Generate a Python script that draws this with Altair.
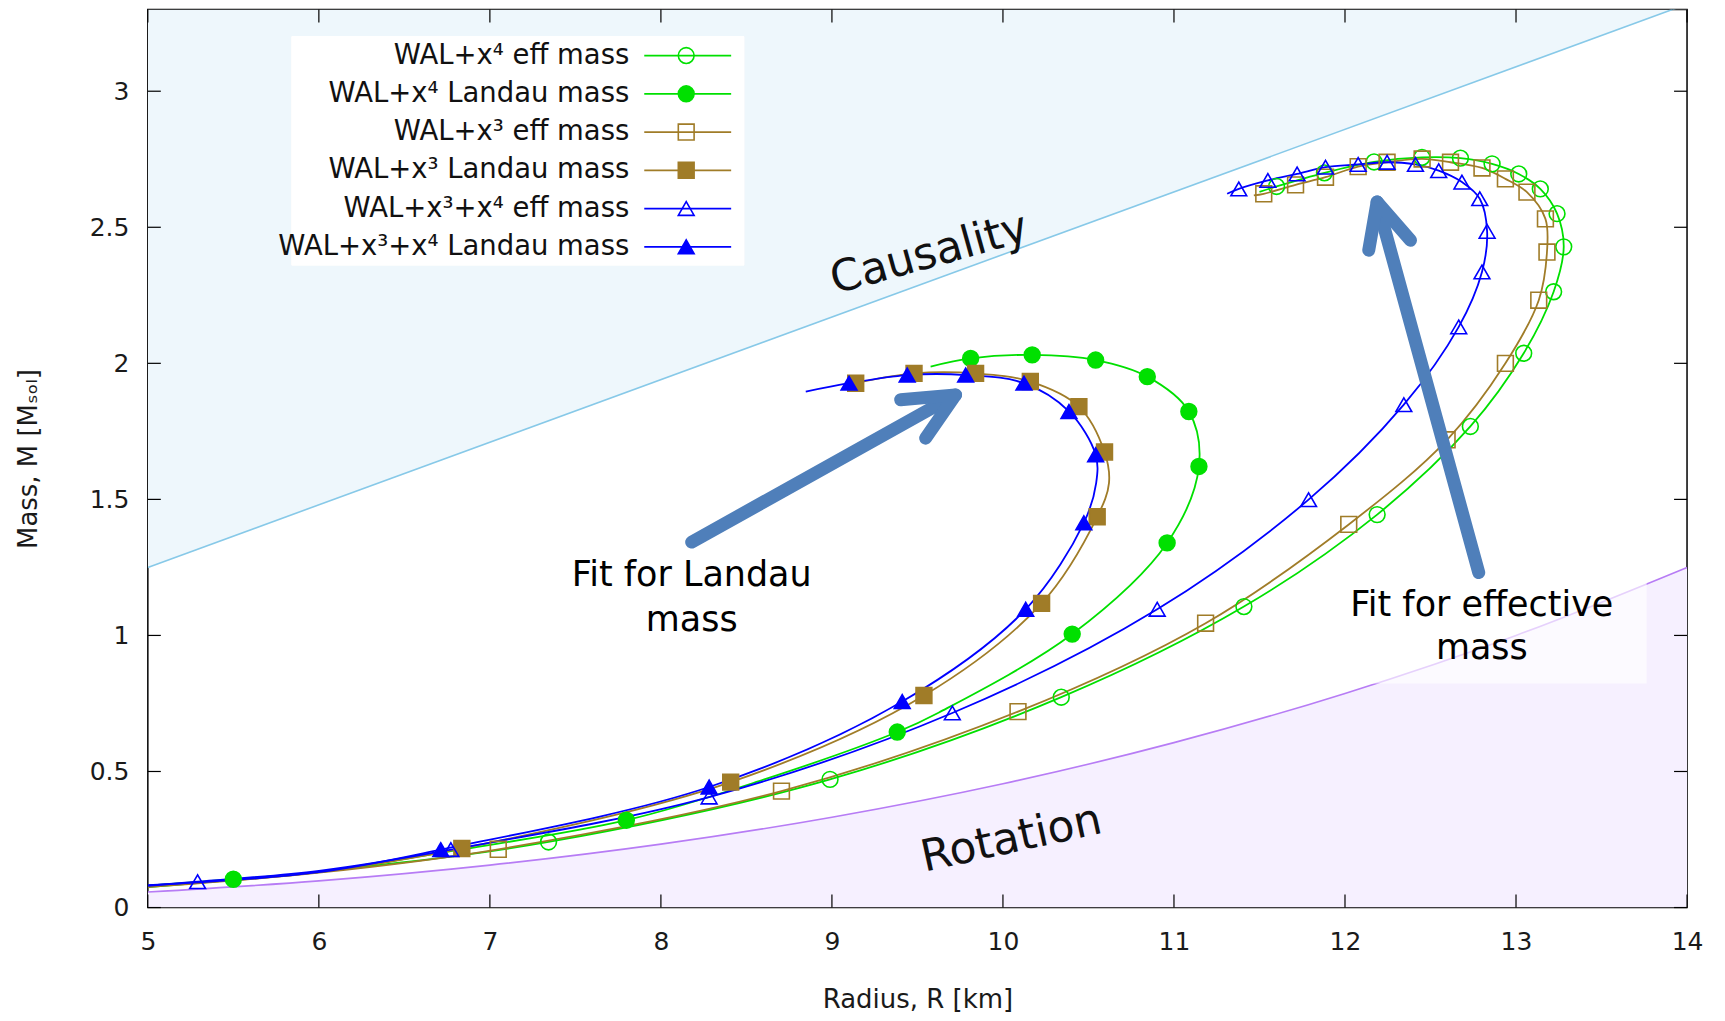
import altair as alt
import pandas as pd

W, H = 1541, 899
FONT = "DejaVu Sans"

SERIES = ["WAL+x⁴ eff mass", "WAL+x⁴ Landau mass", "WAL+x³ eff mass",
          "WAL+x³ Landau mass", "WAL+x³+x⁴ eff mass", "WAL+x³+x⁴ Landau mass"]
COLORS = ["#00e000", "#00e000", "#a07c28", "#a07c28", "#0000ff", "#0000ff"]
FILLS = ["transparent", "#00e000", "transparent", "#a07c28", "transparent", "#0000ff"]
SHAPES = ["circle", "circle", "square", "square", "triangle-up", "triangle-up"]

# ---- curves (R [km], M [Msol]) ordered along the sequence ----
X4_EFF_R = [5.0, 6.2, 7.343, 8.989, 10.341, 11.409, 12.188, 12.733, 13.045, 13.22, 13.279,
            13.24, 13.142, 13.016, 12.86, 12.675, 12.45, 12.17, 11.88, 11.6, 11.5]
X4_EFF_M = [0.075, 0.145, 0.241, 0.471, 0.773, 1.106, 1.444, 1.768, 2.037, 2.263, 2.428,
            2.55, 2.641, 2.696, 2.733, 2.754, 2.757, 2.74, 2.70, 2.65, 2.63]
X4_EFF_MK_R = [7.343, 8.989, 10.341, 11.409, 12.188, 12.733, 13.045, 13.22, 13.279,
               13.24, 13.142, 13.016, 12.86, 12.675, 12.45, 12.17, 11.88, 11.6]
X4_EFF_MK_M = [0.241, 0.471, 0.773, 1.106, 1.444, 1.768, 2.037, 2.263, 2.428,
               2.55, 2.641, 2.696, 2.733, 2.754, 2.757, 2.74, 2.70, 2.65]

X4_LAN_R = [5.0, 5.5, 6.0, 6.7, 7.798, 8.6, 9.382, 9.626, 10.405, 10.96, 11.146, 11.087,
            10.844, 10.542, 10.171, 9.811, 9.577]
X4_LAN_M = [0.08, 0.104, 0.13, 0.2, 0.321, 0.47, 0.645, 0.717, 1.005, 1.34, 1.621, 1.823,
            1.951, 2.012, 2.031, 2.018, 1.988]
X4_LAN_MK_R = [5.5, 7.798, 9.382, 10.405, 10.96, 11.146, 11.087, 10.844, 10.542, 10.171, 9.811]
X4_LAN_MK_M = [0.104, 0.321, 0.645, 1.005, 1.34, 1.621, 1.823, 1.951, 2.012, 2.031, 2.018]

X3_EFF_R = [5.0, 6.0, 7.049, 8.705, 10.088, 11.185, 12.022, 12.597, 12.938, 13.133, 13.181,
            13.172, 13.064, 12.938, 12.801, 12.617, 12.451, 12.246, 12.077, 11.886, 11.711,
            11.525, 11.467]
X3_EFF_M = [0.075, 0.128, 0.214, 0.428, 0.72, 1.045, 1.408, 1.719, 2.0, 2.232, 2.409,
            2.531, 2.629, 2.678, 2.718, 2.739, 2.751, 2.739, 2.723, 2.684, 2.656,
            2.623, 2.617]
X3_EFF_MK_R = [7.049, 8.705, 10.088, 11.185, 12.022, 12.597, 12.938, 13.133, 13.181,
               13.172, 13.064, 12.938, 12.801, 12.617, 12.451, 12.246, 12.077, 11.886,
               11.711, 11.525]
X3_EFF_MK_M = [0.214, 0.428, 0.72, 1.045, 1.408, 1.719, 2.0, 2.232, 2.409,
               2.531, 2.629, 2.678, 2.718, 2.739, 2.751, 2.739, 2.723, 2.684,
               2.656, 2.623]

X3_LAN_R = [5.0, 6.0, 6.836, 8.408, 9.538, 10.226, 10.551, 10.62, 10.594, 10.444, 10.16,
            9.84, 9.48, 9.139]
X3_LAN_M = [0.08, 0.13, 0.217, 0.461, 0.779, 1.118, 1.436, 1.56, 1.674, 1.841, 1.933,
            1.963, 1.963, 1.927]
X3_LAN_MK_R = [6.836, 8.408, 9.538, 10.226, 10.551, 10.594, 10.444, 10.16, 9.84, 9.48, 9.139]
X3_LAN_MK_M = [0.217, 0.461, 0.779, 1.118, 1.436, 1.674, 1.841, 1.933, 1.963, 1.963, 1.927]

X34_EFF_R = [5.0, 5.291, 6.0, 6.772, 8.282, 9.704, 10.902, 11.787, 12.344, 12.665, 12.801,
             12.831, 12.788, 12.684, 12.548, 12.412, 12.246, 12.077, 11.886, 11.72, 11.549,
             11.379, 11.311]
X34_EFF_M = [0.08, 0.095, 0.135, 0.213, 0.406, 0.715, 1.096, 1.499, 1.848, 2.134, 2.336,
             2.485, 2.605, 2.666, 2.708, 2.731, 2.739, 2.731, 2.721, 2.696, 2.672,
             2.641, 2.623]
X34_EFF_MK_R = [5.291, 6.772, 8.282, 9.704, 10.902, 11.787, 12.344, 12.665, 12.801,
                12.831, 12.788, 12.684, 12.548, 12.412, 12.246, 12.077, 11.886, 11.72,
                11.549, 11.379]
X34_EFF_MK_M = [0.095, 0.213, 0.406, 0.715, 1.096, 1.499, 1.848, 2.134, 2.336,
                2.485, 2.605, 2.666, 2.708, 2.731, 2.739, 2.731, 2.721, 2.696,
                2.672, 2.641]

X34_LAN_R = [5.0, 6.0, 6.713, 8.282, 9.411, 10.133, 10.473, 10.545, 10.542, 10.386, 10.123,
             9.782, 9.44, 9.10, 8.847]
X34_LAN_M = [0.082, 0.13, 0.213, 0.443, 0.757, 1.096, 1.414, 1.56, 1.664, 1.823, 1.927,
             1.957, 1.957, 1.927, 1.896]
X34_LAN_MK_R = [6.713, 8.282, 9.411, 10.133, 10.473, 10.542, 10.386, 10.123, 9.782, 9.44, 9.10]
X34_LAN_MK_M = [0.213, 0.443, 0.757, 1.096, 1.414, 1.664, 1.823, 1.927, 1.957, 1.957, 1.927]

# ---- limits ----
CAUS_R = [5.0, 14.0]
CAUS_M = [1.25, 3.32]
M_TOP = 3.3
ROT_R = [5, 6, 7, 8, 9, 10, 11, 12, 13, 14]
ROT_M = [0.057, 0.098, 0.156, 0.233, 0.332, 0.455, 0.606, 0.787, 1.0, 1.25]

XTICKS = [5, 6, 7, 8, 9, 10, 11, 12, 13, 14]
YTICKS = [0, 0.5, 1, 1.5, 2, 2.5, 3]

# ---- annotations ----
ARROW_SEG = ["a1", "a1", "h1", "h1", "h1", "a2", "a2", "h2", "h2", "h2"]
ARROW_R = [8.18, 9.723, 9.402, 9.723, 9.548, 12.782, 12.188, 12.139, 12.188, 12.383]
ARROW_M = [1.343, 1.884, 1.866, 1.884, 1.725, 1.231, 2.593, 2.416, 2.593, 2.452]

# ---------------------------------------------------------------
curve_sets = [(X4_EFF_R, X4_EFF_M), (X4_LAN_R, X4_LAN_M), (X3_EFF_R, X3_EFF_M),
              (X3_LAN_R, X3_LAN_M), (X34_EFF_R, X34_EFF_M), (X34_LAN_R, X34_LAN_M)]
mark_sets = [(X4_EFF_MK_R, X4_EFF_MK_M), (X4_LAN_MK_R, X4_LAN_MK_M), (X3_EFF_MK_R, X3_EFF_MK_M),
             (X3_LAN_MK_R, X3_LAN_MK_M), (X34_EFF_MK_R, X34_EFF_MK_M), (X34_LAN_MK_R, X34_LAN_MK_M)]

curves = pd.concat([pd.DataFrame({"series": s, "R": r, "M": m, "k": range(len(r)), "si": i})
                    for i, (s, (r, m)) in enumerate(zip(SERIES, curve_sets))])
markers = pd.concat([pd.DataFrame({"series": s, "R": r, "M": m, "si": i})
                     for i, (s, (r, m)) in enumerate(zip(SERIES, mark_sets))])
caus = pd.DataFrame({"R": CAUS_R, "M": CAUS_M, "Mt": [M_TOP] * len(CAUS_R)})
rot = pd.DataFrame({"R": ROT_R, "M": ROT_M, "M0": [0.0] * len(ROT_R)})
arrows = pd.DataFrame({"seg": ARROW_SEG, "R": ARROW_R, "M": ARROW_M, "k": range(len(ARROW_R))})
xt = pd.DataFrame({"R": XTICKS})
yt = pd.DataFrame({"M": YTICKS})
leg = pd.DataFrame({"series": SERIES, "row": range(len(SERIES))})

xs = alt.Scale(domain=[5, 14], nice=False, zero=False)
ys = alt.Scale(domain=[0, 3.3], nice=False, zero=False)
cs = alt.Scale(domain=SERIES, range=COLORS)
fs = alt.Scale(domain=SERIES, range=FILLS)
ss = alt.Scale(domain=SERIES, range=SHAPES)

x_axis = alt.Axis(values=XTICKS, format="d", tickSize=0, domain=False, grid=False,
                  labelFont=FONT, labelFontSize=25, labelColor="#1a1a1a", labelPadding=22,
                  labelFlush=False, title="Radius, R [km]", titleFont=FONT, titleFontSize=26,
                  titleFontWeight="normal", titleColor="#1a1a1a", titleY=92,
                  titleBaseline="middle")
y_axis = alt.Axis(values=YTICKS, format="~g", tickSize=0, domain=False, grid=False,
                  labelFont=FONT, labelFontSize=25, labelColor="#1a1a1a", labelPadding=19,
                  labelFlush=False, title="Mass, M [Mₛₒₗ]", titleFont=FONT, titleFontSize=26,
                  titleFontWeight="normal", titleColor="#1a1a1a", titleX=-119, titleY=H / 2,
                  titleAngle=270, titleAlign="center", titleBaseline="middle")

X = alt.X("R:Q", scale=xs, axis=x_axis)
Y = alt.Y("M:Q", scale=ys, axis=y_axis)

caus_area = alt.Chart(caus).mark_area(color="#eef7fc", clip=True).encode(
    x=X, y=Y, y2="Mt:Q")
caus_line = alt.Chart(caus).mark_line(color="#87c9e8", strokeWidth=1.6, clip=True).encode(x=X, y=Y)
rot_area = alt.Chart(rot).mark_area(color="#f6f0ff", interpolate="monotone", clip=True).encode(
    x=X, y=Y, y2="M0:Q")
rot_line = alt.Chart(rot).mark_line(color="#b77cf5", strokeWidth=1.6, interpolate="monotone",
                                    clip=True).encode(x=X, y=Y)

fit_box = alt.Chart(pd.DataFrame({"R": [12.0], "R2": [13.764], "M": [0.823], "M2": [1.207]})
                    ).mark_rect(color="white", opacity=0.65).encode(
    x=X, x2="R2:Q", y=Y, y2="M2:Q")

leg_box = alt.Chart(leg).mark_rect(color="white").encode(
    x=alt.value(144), x2=alt.value(597), y=alt.value(27), y2=alt.value(256))

lines = alt.Chart(curves).mark_line(strokeWidth=1.8, interpolate="catmull-rom", clip=True).encode(
    x=X, y=Y,
    color=alt.Color("series:N", scale=cs, legend=None),
    detail="si:N",
    order="k:Q")

points = alt.Chart(markers).mark_point(filled=False, opacity=1, size=250, strokeWidth=1.6,
                                       clip=True).encode(
    x=X, y=Y,
    color=alt.Color("series:N", scale=cs, legend=None),
    fill=alt.Fill("series:N", scale=fs, legend=None),
    shape=alt.Shape("series:N", scale=ss, legend=None))

arrow_marks = alt.Chart(arrows).mark_line(color="#4f7fba", strokeWidth=13, strokeCap="round",
                                          strokeJoin="round").encode(
    x=X, y=Y, detail="seg:N", order="k:Q")

caus_txt = alt.Chart(pd.DataFrame({"R": [9.57], "M": [2.40], "t": ["Causality"]})).mark_text(
    font=FONT, fontSize=44, angle=344.5, color="#111111", align="center", baseline="middle").encode(
    x=X, y=Y, text="t:N")
rot_txt = alt.Chart(pd.DataFrame({"R": [10.05], "M": [0.25], "t": ["Rotation"]})).mark_text(
    font=FONT, fontSize=44, angle=347.7, color="#111111", align="center", baseline="middle").encode(
    x=X, y=Y, text="t:N")
fit1 = alt.Chart(pd.DataFrame({"R": [8.18], "M": [1.182], "t": ["Fit for Landau\nmass"]})).mark_text(
    font=FONT, fontSize=35, lineBreak="\n", lineHeight=45, color="#000000", align="center",
    baseline="alphabetic").encode(x=X, y=Y, text="t:N")
fit2 = alt.Chart(pd.DataFrame({"R": [12.80], "M": [1.072], "t": ["Fit for effective\nmass"]})).mark_text(
    font=FONT, fontSize=35, lineBreak="\n", lineHeight=43, color="#000000", align="center",
    baseline="alphabetic").encode(x=X, y=Y, text="t:N")

LY = alt.Y("ypx:Q", scale=None, axis=None)
leg_base = alt.Chart(leg).transform_calculate(ypx="46 + datum.row * 38.3")
leg_text = leg_base.mark_text(font=FONT, fontSize=27.5, align="right", baseline="middle",
                              color="#111111").encode(x=alt.value(482), y=LY, text="series:N")
leg_line = leg_base.mark_rule(strokeWidth=1.8).encode(
    x=alt.value(497), x2=alt.value(584), y=LY,
    color=alt.Color("series:N", scale=cs, legend=None))
leg_pt = leg_base.mark_point(filled=False, opacity=1, size=250, strokeWidth=1.6).encode(
    x=alt.value(539), y=LY,
    color=alt.Color("series:N", scale=cs, legend=None),
    fill=alt.Fill("series:N", scale=fs, legend=None),
    shape=alt.Shape("series:N", scale=ss, legend=None))

TL = 13
tb = alt.Chart(xt).mark_rule(color="black", strokeWidth=1.2).encode(
    x=X, y=alt.value(H), y2=alt.value(H - TL))
tt = alt.Chart(xt).mark_rule(color="black", strokeWidth=1.2).encode(
    x=X, y=alt.value(0), y2=alt.value(TL))
tlft = alt.Chart(yt).mark_rule(color="black", strokeWidth=1.2).encode(
    y=Y, x=alt.value(0), x2=alt.value(TL))
trgt = alt.Chart(yt).mark_rule(color="black", strokeWidth=1.2).encode(
    y=Y, x=alt.value(W), x2=alt.value(W - TL))

chart = alt.layer(
    caus_area, caus_line, rot_area, rot_line, fit_box, leg_box,
    lines, points, arrow_marks, caus_txt, rot_txt, fit1, fit2,
    leg_line, leg_pt, leg_text, tb, tt, tlft, trgt
).properties(
    width=W, height=H,
    autosize=alt.AutoSizeParams(type="none"),
    padding={"left": 140, "top": 1, "right": 30, "bottom": 111},
    background="white"
).configure_view(stroke="black", strokeWidth=1.5)

chart.save("out.html", embed_options={"renderer": "svg", "actions": False})
